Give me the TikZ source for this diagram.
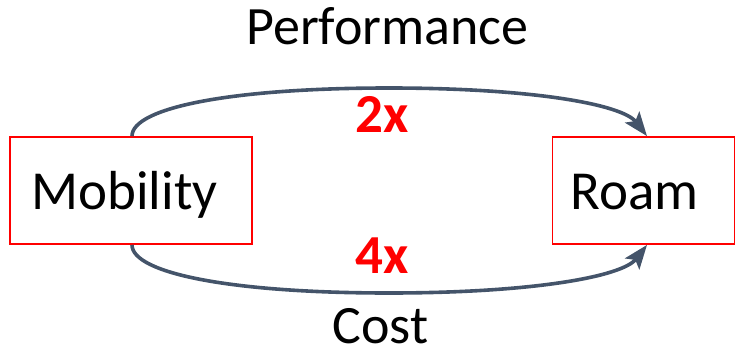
\documentclass[tikz,border=0pt]{standalone}
\usepackage{fontspec}
\setmainfont{Carlito}
\usetikzlibrary{arrows.meta}
\definecolor{linkgray}{HTML}{44546A}
\definecolor{boxred}{HTML}{FF0000}
\tikzset{
  box/.style={draw=boxred, line width=1.8pt, fill=white, rectangle, inner sep=0pt},
  word/.style={anchor=base, inner sep=0pt, font=\fontsize{55}{60}\selectfont},
  title/.style={anchor=base, inner sep=0pt, font=\fontsize{54}{60}\selectfont},
  factor/.style={anchor=base, inner sep=0pt, text=boxred, font=\bfseries\fontsize{55}{60}\selectfont},
  link/.style={draw=linkgray, line width=3.6pt, -{Stealth[length=24pt,width=18pt,inset=5pt]}}
}
\begin{document}
\begin{tikzpicture}[x=1pt,y=-1pt]
  \useasboundingbox (0,0) rectangle (736,356);
  % the two boxes
  \node[box, minimum width=242pt, minimum height=107pt] (mob) at (131,190.5) {};
  \node[box, minimum width=182pt, minimum height=107pt] (roam) at (643.5,190.5) {};
  \node[word] (mobtext) at (124.5,209) {Mobility};
  \node[word] (roamtext) at (634.5,209) {Roam};
  % named points on the curves
  \coordinate (topmid) at (389,88);
  \coordinate (botmid) at (389,293);
  % upper link: performance
  \draw[link] (mob.north -| 132,0) .. controls (132,108) and (230,88) .. (topmid)
        .. controls (530,88) and (622,104) .. (roam.north -| 647,0);
  % lower link: cost
  \draw[link] (mob.south -| 132,0) .. controls (132,273) and (230,293) .. (botmid)
        .. controls (530,293) and (622,277) .. (roam.south -| 647,0);
  % labels
  \node[title] (perf) at (387.5,44) {Performance};
  \node[title] (cost) at (380.5,343) {Cost};
  \node[factor] (two) at (382.5,132) {2x};
  \node[factor] (four) at (382.5,273) {4x};
\end{tikzpicture}
\end{document}
